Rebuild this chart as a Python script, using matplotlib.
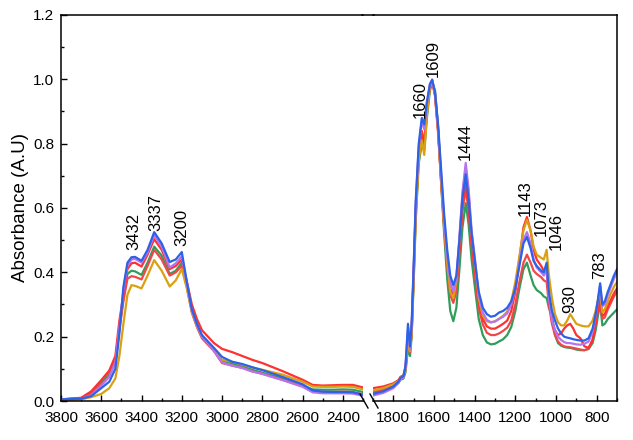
import matplotlib
matplotlib.use("Agg")
import matplotlib.pyplot as plt
from matplotlib.lines import Line2D
from matplotlib.ticker import MultipleLocator

plt.rcParams['font.family'] = ['Liberation Sans', 'DejaVu Sans']

# wavenumbers (cm-1) of the two segments
w_left = [3800, 3700, 3650, 3600, 3560, 3530, 3510, 3490, 3470, 3450,
          3432, 3400, 3370, 3337, 3300, 3260, 3230, 3200, 3175, 3150,
          3125, 3100, 3070, 3040, 3000, 2950, 2900, 2850, 2800, 2700,
          2600, 2550, 2500, 2450, 2400, 2350, 2300]
w_right = [1900, 1850, 1800, 1775, 1765, 1750, 1740, 1728, 1718, 1710,
           1700, 1690, 1675, 1660, 1648, 1635, 1620, 1609, 1595, 1580,
           1565, 1550, 1535, 1520, 1505, 1490, 1475, 1460, 1444, 1430,
           1415, 1400, 1380, 1360, 1340, 1320, 1300, 1280, 1260, 1240,
           1220, 1200, 1180, 1160, 1143, 1125, 1110, 1095, 1073, 1060,
           1046, 1035, 1020, 1005, 990, 975, 960, 945, 930, 915,
           900, 880, 860, 840, 820, 805, 795, 783, 772, 760,
           745, 730, 715, 700]

# absorbance, high-wavenumber part
blue_l = [0.005, 0.007, 0.015, 0.040, 0.060, 0.100, 0.210, 0.355, 0.430, 0.447,
          0.448, 0.436, 0.470, 0.525, 0.490, 0.432, 0.440, 0.463, 0.370, 0.285,
          0.240, 0.205, 0.185, 0.165, 0.137, 0.122, 0.115, 0.105, 0.096, 0.075,
          0.052, 0.033, 0.029, 0.028, 0.028, 0.027, 0.020]
purple_l = [0.005, 0.007, 0.018, 0.048, 0.075, 0.120, 0.230, 0.345, 0.420, 0.440,
            0.442, 0.430, 0.462, 0.516, 0.480, 0.415, 0.428, 0.450, 0.365, 0.280,
            0.235, 0.200, 0.180, 0.155, 0.120, 0.110, 0.103, 0.092, 0.084, 0.065,
            0.044, 0.027, 0.024, 0.024, 0.024, 0.023, 0.016]
red_l = [0.005, 0.010, 0.030, 0.065, 0.095, 0.140, 0.250, 0.330, 0.410, 0.428,
         0.430, 0.418, 0.455, 0.503, 0.470, 0.410, 0.420, 0.440, 0.372, 0.300,
         0.255, 0.220, 0.200, 0.180, 0.162, 0.152, 0.140, 0.128, 0.118, 0.093,
         0.066, 0.050, 0.048, 0.049, 0.050, 0.050, 0.042]
green_l = [0.005, 0.008, 0.025, 0.058, 0.085, 0.125, 0.230, 0.320, 0.395, 0.405,
           0.403, 0.392, 0.430, 0.480, 0.452, 0.395, 0.405, 0.430, 0.360, 0.280,
           0.235, 0.200, 0.180, 0.160, 0.125, 0.117, 0.108, 0.097, 0.088, 0.070,
           0.048, 0.036, 0.035, 0.035, 0.036, 0.035, 0.028]
red2_l = [0.005, 0.009, 0.022, 0.052, 0.080, 0.120, 0.220, 0.310, 0.380, 0.388,
          0.386, 0.378, 0.420, 0.470, 0.440, 0.390, 0.400, 0.420, 0.355, 0.275,
          0.230, 0.195, 0.175, 0.155, 0.118, 0.110, 0.103, 0.092, 0.085, 0.066,
          0.046, 0.030, 0.028, 0.028, 0.029, 0.028, 0.020]
gold_l = [0.004, 0.005, 0.012, 0.022, 0.040, 0.070, 0.140, 0.240, 0.330, 0.360,
          0.358, 0.350, 0.390, 0.438, 0.405, 0.356, 0.375, 0.410, 0.350, 0.275,
          0.232, 0.200, 0.182, 0.162, 0.128, 0.122, 0.113, 0.104, 0.097, 0.082,
          0.060, 0.045, 0.044, 0.044, 0.045, 0.044, 0.036]

# absorbance, fingerprint part
blue_r = [0.022, 0.030, 0.045, 0.060, 0.072, 0.078, 0.110, 0.240, 0.170, 0.240,
          0.420, 0.620, 0.800, 0.880, 0.860, 0.930, 0.985, 0.998, 0.960, 0.860,
          0.720, 0.580, 0.470, 0.390, 0.360, 0.390, 0.500, 0.630, 0.705, 0.630,
          0.520, 0.440, 0.340, 0.290, 0.270, 0.262, 0.265, 0.275, 0.280, 0.290,
          0.310, 0.350, 0.420, 0.490, 0.510, 0.475, 0.435, 0.420, 0.405, 0.400,
          0.430, 0.340, 0.280, 0.250, 0.225, 0.210, 0.200, 0.197, 0.195, 0.192,
          0.190, 0.188, 0.188, 0.195, 0.225, 0.270, 0.310, 0.366, 0.300, 0.310,
          0.340, 0.365, 0.390, 0.410]
purple_r = [0.017, 0.025, 0.040, 0.056, 0.068, 0.074, 0.105, 0.225, 0.160, 0.230,
            0.410, 0.610, 0.790, 0.870, 0.845, 0.925, 0.985, 1.000, 0.955, 0.850,
            0.705, 0.560, 0.450, 0.370, 0.340, 0.380, 0.510, 0.650, 0.740, 0.660,
            0.530, 0.450, 0.330, 0.275, 0.252, 0.245, 0.247, 0.255, 0.262, 0.272,
            0.300, 0.350, 0.430, 0.500, 0.525, 0.490, 0.440, 0.415, 0.400, 0.390,
            0.410, 0.320, 0.250, 0.220, 0.200, 0.190, 0.183, 0.180, 0.180, 0.178,
            0.176, 0.175, 0.178, 0.185, 0.215, 0.265, 0.305, 0.360, 0.295, 0.300,
            0.330, 0.355, 0.380, 0.400]
red_r = [0.040, 0.045, 0.055, 0.065, 0.075, 0.080, 0.105, 0.195, 0.160, 0.220,
         0.400, 0.590, 0.770, 0.840, 0.800, 0.910, 0.980, 0.995, 0.950, 0.840,
         0.690, 0.550, 0.440, 0.350, 0.330, 0.360, 0.480, 0.610, 0.680, 0.610,
         0.500, 0.420, 0.310, 0.255, 0.232, 0.225, 0.225, 0.232, 0.240, 0.250,
         0.280, 0.340, 0.440, 0.540, 0.572, 0.530, 0.470, 0.440, 0.420, 0.405,
         0.400, 0.320, 0.250, 0.220, 0.205, 0.210, 0.225, 0.235, 0.240, 0.225,
         0.205, 0.195, 0.170, 0.165, 0.190, 0.240, 0.280, 0.320, 0.265, 0.270,
         0.295, 0.315, 0.335, 0.350]
green_r = [0.027, 0.033, 0.045, 0.056, 0.066, 0.070, 0.090, 0.165, 0.140, 0.200,
           0.370, 0.560, 0.740, 0.800, 0.780, 0.880, 0.965, 0.990, 0.965, 0.850,
           0.680, 0.520, 0.380, 0.280, 0.248, 0.290, 0.410, 0.540, 0.615, 0.550,
           0.440, 0.360, 0.255, 0.205, 0.182, 0.176, 0.178, 0.185, 0.192, 0.205,
           0.230, 0.280, 0.350, 0.410, 0.430, 0.390, 0.360, 0.345, 0.335, 0.325,
           0.320, 0.290, 0.265, 0.205, 0.180, 0.172, 0.168, 0.166, 0.165, 0.163,
           0.160, 0.158, 0.158, 0.162, 0.180, 0.220, 0.260, 0.305, 0.235, 0.240,
           0.255, 0.265, 0.275, 0.285]
red2_r = [0.030, 0.036, 0.048, 0.060, 0.072, 0.076, 0.100, 0.190, 0.150, 0.210,
          0.390, 0.580, 0.760, 0.830, 0.790, 0.900, 0.975, 0.995, 0.950, 0.835,
          0.680, 0.535, 0.420, 0.330, 0.305, 0.340, 0.460, 0.590, 0.660, 0.590,
          0.480, 0.400, 0.290, 0.238, 0.212, 0.205, 0.205, 0.210, 0.218, 0.228,
          0.250, 0.300, 0.370, 0.430, 0.455, 0.430, 0.405, 0.395, 0.385, 0.375,
          0.370, 0.300, 0.240, 0.205, 0.185, 0.175, 0.170, 0.168, 0.167, 0.165,
          0.163, 0.160, 0.158, 0.162, 0.190, 0.240, 0.275, 0.310, 0.255, 0.260,
          0.285, 0.305, 0.325, 0.340]
gold_r = [0.033, 0.040, 0.052, 0.062, 0.073, 0.078, 0.100, 0.180, 0.155, 0.210,
          0.380, 0.570, 0.750, 0.810, 0.765, 0.890, 0.975, 0.995, 0.955, 0.845,
          0.690, 0.545, 0.430, 0.340, 0.320, 0.370, 0.500, 0.640, 0.725, 0.650,
          0.520, 0.440, 0.320, 0.265, 0.248, 0.244, 0.248, 0.256, 0.265, 0.278,
          0.310, 0.370, 0.450, 0.530, 0.563, 0.530, 0.480, 0.455, 0.445, 0.440,
          0.470, 0.390, 0.320, 0.270, 0.245, 0.235, 0.235, 0.250, 0.270, 0.255,
          0.240, 0.235, 0.232, 0.232, 0.250, 0.280, 0.310, 0.345, 0.275, 0.285,
          0.310, 0.335, 0.355, 0.370]

series = [
    (green_l, green_r, '#2e9e5a'),
    (red2_l, red2_r, '#f04848'),
    (red_l, red_r, '#ff3030'),
    (gold_l, gold_r, '#d9a012'),
    (purple_l, purple_r, '#b474f0'),
    (blue_l, blue_r, '#2d62e6'),
]

# peak labels: (segment, wavenumber, absorbance at label foot, text)
peaks = [
    ('L', 3440, 0.470, '3432'), ('L', 3330, 0.530, '3337'), ('L', 3199, 0.481, '3200'),
    ('R', 1666, 0.880, '1660'), ('R', 1605, 1.006, '1609'), ('R', 1448, 0.750, '1444'),
    ('R', 1153, 0.576, '1143'), ('R', 1074, 0.514, '1073'), ('R', 1000, 0.470, '1046'),
    ('R', 931, 0.275, '930'), ('R', 784, 0.380, '783'),
]

W, H = 633, 440
fig = plt.figure(figsize=(W / 100, H / 100), dpi=100)
bot = (H - 401) / H
hgt = (401 - 15) / H
ax1 = fig.add_axes([61 / W, bot, (363 - 61) / W, hgt])
ax2 = fig.add_axes([373 / W, bot, (617 - 373) / W, hgt])

for yl, yr, c in series:
    ax1.plot(w_left, yl, color=c, lw=1.6)
    ax2.plot(w_right, yr, color=c, lw=1.6)

ax1.set_xlim(3800, 2300)
ax2.set_xlim(1900, 700)
for ax in (ax1, ax2):
    ax.set_ylim(0, 1.2)
    ax.xaxis.set_major_locator(MultipleLocator(200))
    ax.xaxis.set_minor_locator(MultipleLocator(100))
    ax.yaxis.set_major_locator(MultipleLocator(0.2))
    ax.yaxis.set_minor_locator(MultipleLocator(0.1))
    ax.tick_params(which='both', direction='in', labelsize=11, width=1, pad=7)
    ax.tick_params(which='major', length=4.5)
    ax.tick_params(which='minor', length=2.5)
    for s in ax.spines.values():
        s.set_linewidth(1.1)

ax1.xaxis.set_major_locator(plt.FixedLocator(range(3800, 2399, -200)))
ax1.spines['right'].set_visible(False)
ax1.yaxis.set_major_formatter(plt.FuncFormatter(lambda v, p: f'{v:.1f}'))
ax1.tick_params(axis='y', pad=5)
ax1.set_ylabel('Absorbance (A.U)', fontsize=13.5, labelpad=3)

ax2.xaxis.set_major_locator(plt.FixedLocator(range(1800, 799, -200)))
ax2.spines['left'].set_visible(False)
ax2.tick_params(axis='y', which='both', left=False, labelleft=False)

for seg, wn, yv, txt in peaks:
    ax = ax1 if seg == 'L' else ax2
    ax.text(wn, yv, txt, rotation=90, ha='center', va='bottom', fontsize=12)

# top spine across the gap and the break marks
def fx(px):
    return px / W

def fy(py):
    return 1 - py / H

fig.add_artist(Line2D([fx(362), fx(374)], [fy(15), fy(15)], color='black', lw=1.1))
fig.add_artist(Line2D([fx(360), fx(368)], [fy(394), fy(408)], color='black', lw=1))
fig.add_artist(Line2D([fx(370), fx(378)], [fy(394), fy(408)], color='black', lw=1))

fig.savefig('out.png', dpi=100)
